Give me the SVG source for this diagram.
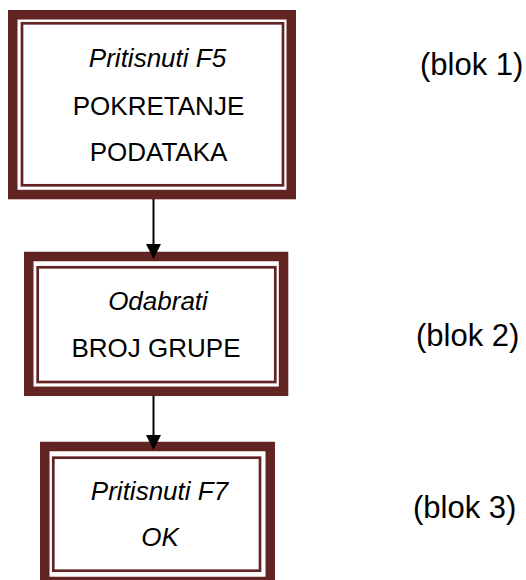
<svg xmlns="http://www.w3.org/2000/svg" width="526" height="580" viewBox="0 0 526 580">
<style>
.outer{fill:#ffffff;stroke:#622423;stroke-width:9.5}
.inner{fill:none;stroke:#622423;stroke-width:2.7}
.t{font-family:"Liberation Sans",Arial,sans-serif;font-size:26px;fill:#000;text-anchor:middle}
.i{font-style:italic}
.lbl{font-family:"Liberation Sans",Arial,sans-serif;font-size:31px;fill:#000}
.conn{stroke:#000;stroke-width:2;fill:none}
</style>
<rect width="526" height="580" fill="#ffffff"/>
<g id="block1">
<rect class="outer" x="12.75" y="14.75" width="278.5" height="179.8"/>
<rect class="inner" x="22" y="23.3" width="261" height="162"/>
<text class="t i" x="157.5" y="67">Pritisnuti F5</text>
<text class="t" x="158.5" y="115">POKRETANJE</text>
<text class="t" x="158.5" y="161">PODATAKA</text>
</g>
<g id="block2">
<rect class="outer" x="28.75" y="256.5" width="254.8" height="134.8"/>
<rect class="inner" x="37.7" y="267.3" width="237.6" height="114.7"/>
<text class="t i" x="158" y="310">Odabrati</text>
<text class="t" x="156" y="357">BROJ GRUPE</text>
</g>
<g id="block3">
<rect class="outer" x="44.75" y="446.5" width="225.5" height="135"/>
<rect class="inner" x="53.3" y="457.7" width="206.7" height="113"/>
<text class="t i" x="159.5" y="500">Pritisnuti F7</text>
<text class="t i" x="160" y="546">OK</text>
</g>
<g id="labels">
<text class="lbl" x="420" y="75">(blok 1)</text>
<text class="lbl" x="416" y="346">(blok 2)</text>
<text class="lbl" x="413" y="518">(blok 3)</text>
</g>
<g id="connectors">
<line class="conn" x1="153.5" y1="199" x2="153.5" y2="246"/>
<polygon points="146,244 161,244 153.5,259" fill="#000"/>
<line class="conn" x1="153.5" y1="396" x2="153.5" y2="437"/>
<polygon points="146,435 161,435 153.5,450" fill="#000"/>
</g>
</svg>
